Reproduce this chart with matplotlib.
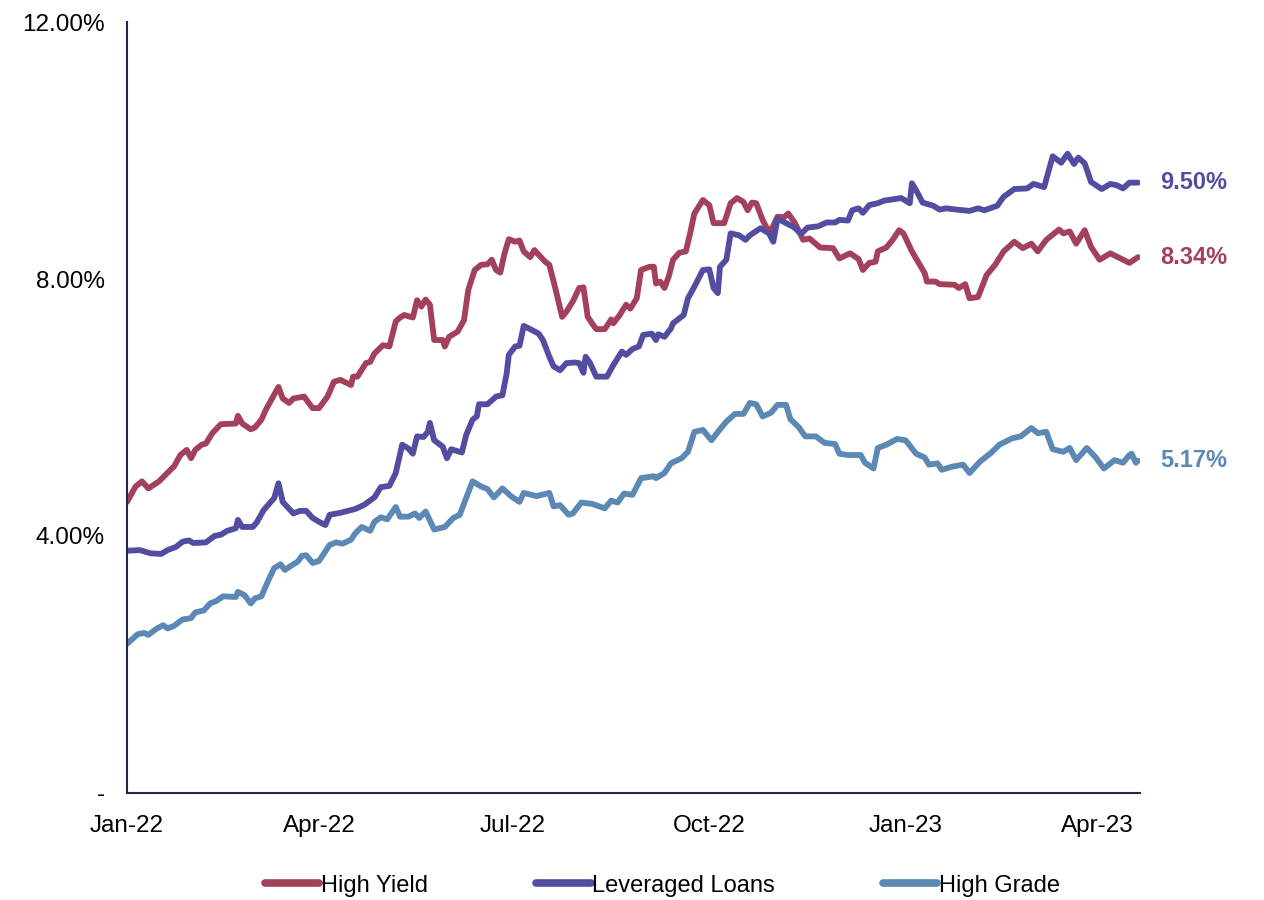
import pandas as pd
import matplotlib
matplotlib.use("Agg")
from matplotlib import pyplot as plt
import matplotlib.dates as mdates
from matplotlib.ticker import FixedLocator, FuncFormatter

plt.rcParams['font.family'] = ['Liberation Sans', 'DejaVu Sans']

# yield to worst, % (daily, thinned)
hy_dates = [
    "2022-01-01", "2022-01-05", "2022-01-08", "2022-01-11", "2022-01-16", "2022-01-22", "2022-01-23",
    "2022-01-26", "2022-01-29", "2022-01-31", "2022-02-02", "2022-02-05", "2022-02-07", "2022-02-10",
    "2022-02-14", "2022-02-21", "2022-02-22", "2022-02-24", "2022-02-28", "2022-03-02", "2022-03-05",
    "2022-03-07", "2022-03-10", "2022-03-13", "2022-03-15", "2022-03-18", "2022-03-20", "2022-03-25",
    "2022-03-29", "2022-04-01", "2022-04-05", "2022-04-08", "2022-04-11", "2022-04-16", "2022-04-17",
    "2022-04-19", "2022-04-23", "2022-04-25", "2022-04-27", "2022-05-01", "2022-05-04", "2022-05-07",
    "2022-05-09", "2022-05-11", "2022-05-15", "2022-05-17", "2022-05-19", "2022-05-21", "2022-05-23",
    "2022-05-25", "2022-05-29", "2022-05-30", "2022-06-01", "2022-06-05", "2022-06-08", "2022-06-10",
    "2022-06-13", "2022-06-16", "2022-06-19", "2022-06-21", "2022-06-23", "2022-06-25", "2022-06-27",
    "2022-06-29", "2022-07-02", "2022-07-04", "2022-07-06", "2022-07-09", "2022-07-11", "2022-07-16",
    "2022-07-18", "2022-07-21", "2022-07-24", "2022-07-26", "2022-07-29", "2022-08-01", "2022-08-03",
    "2022-08-05", "2022-08-07", "2022-08-09", "2022-08-13", "2022-08-16", "2022-08-17", "2022-08-20",
    "2022-08-23", "2022-08-25", "2022-08-28", "2022-08-30", "2022-09-03", "2022-09-05", "2022-09-06",
    "2022-09-08", "2022-09-10", "2022-09-12", "2022-09-14", "2022-09-17", "2022-09-20", "2022-09-22",
    "2022-09-24", "2022-09-28", "2022-10-01", "2022-10-03", "2022-10-08", "2022-10-11", "2022-10-14",
    "2022-10-17", "2022-10-19", "2022-10-21", "2022-10-23", "2022-10-26", "2022-10-28", "2022-10-30",
    "2022-11-02", "2022-11-05", "2022-11-07", "2022-11-10", "2022-11-14", "2022-11-17", "2022-11-22",
    "2022-11-28", "2022-12-01", "2022-12-06", "2022-12-10", "2022-12-12", "2022-12-15", "2022-12-18",
    "2022-12-19", "2022-12-23", "2022-12-26", "2022-12-29", "2022-12-31", "2023-01-04", "2023-01-10",
    "2023-01-11", "2023-01-15", "2023-01-17", "2023-01-24", "2023-01-26", "2023-01-29", "2023-01-31",
    "2023-02-04", "2023-02-08", "2023-02-12", "2023-02-16", "2023-02-21", "2023-02-25", "2023-03-01",
    "2023-03-04", "2023-03-08", "2023-03-14", "2023-03-16", "2023-03-19", "2023-03-22", "2023-03-26",
    "2023-03-29", "2023-04-02", "2023-04-07", "2023-04-13", "2023-04-16", "2023-04-20",
]
hy_values = [
    4.53, 4.77, 4.85, 4.74, 4.85, 5.05, 5.08,
    5.26, 5.34, 5.21, 5.34, 5.42, 5.44, 5.60,
    5.74, 5.75, 5.87, 5.75, 5.66, 5.69, 5.81,
    5.96, 6.14, 6.32, 6.14, 6.07, 6.14, 6.17,
    5.99, 5.99, 6.17, 6.40, 6.43, 6.35, 6.48,
    6.48, 6.69, 6.71, 6.84, 6.97, 6.95, 7.34,
    7.40, 7.44, 7.40, 7.67, 7.57, 7.68, 7.60,
    7.05, 7.05, 6.95, 7.10, 7.18, 7.36, 7.83,
    8.14, 8.22, 8.23, 8.30, 8.14, 8.10, 8.40,
    8.62, 8.58, 8.60, 8.43, 8.34, 8.45, 8.27,
    8.22, 7.83, 7.41, 7.49, 7.65, 7.86, 7.87,
    7.41, 7.31, 7.22, 7.22, 7.37, 7.31, 7.44,
    7.60, 7.54, 7.70, 8.14, 8.19, 8.19, 7.93,
    7.96, 7.86, 8.04, 8.30, 8.41, 8.43, 8.71,
    9.02, 9.23, 9.15, 8.87, 8.87, 9.18, 9.26,
    9.20, 9.07, 9.19, 9.18, 8.92, 8.79, 8.76,
    8.97, 8.96, 9.02, 8.88, 8.61, 8.63, 8.49,
    8.48, 8.32, 8.40, 8.31, 8.14, 8.25, 8.27,
    8.43, 8.49, 8.61, 8.76, 8.71, 8.43, 8.09,
    7.96, 7.96, 7.92, 7.91, 7.86, 7.92, 7.70,
    7.72, 8.06, 8.22, 8.43, 8.58, 8.48, 8.55,
    8.43, 8.61, 8.77, 8.71, 8.74, 8.55, 8.76,
    8.50, 8.30, 8.40, 8.30, 8.25, 8.34,
]

ll_dates = [
    "2022-01-01", "2022-01-07", "2022-01-12", "2022-01-17", "2022-01-20", "2022-01-24", "2022-01-27",
    "2022-01-30", "2022-02-01", "2022-02-07", "2022-02-11", "2022-02-14", "2022-02-17", "2022-02-21",
    "2022-02-22", "2022-02-24", "2022-03-01", "2022-03-03", "2022-03-06", "2022-03-11", "2022-03-13",
    "2022-03-15", "2022-03-20", "2022-03-23", "2022-03-26", "2022-03-29", "2022-04-01", "2022-04-04",
    "2022-04-06", "2022-04-11", "2022-04-18", "2022-04-22", "2022-04-27", "2022-04-30", "2022-05-04",
    "2022-05-07", "2022-05-10", "2022-05-13", "2022-05-15", "2022-05-17", "2022-05-20", "2022-05-22",
    "2022-05-23", "2022-05-25", "2022-05-29", "2022-05-31", "2022-06-02", "2022-06-07", "2022-06-09",
    "2022-06-12", "2022-06-14", "2022-06-15", "2022-06-19", "2022-06-23", "2022-06-26", "2022-06-28",
    "2022-06-29", "2022-07-02", "2022-07-04", "2022-07-06", "2022-07-09", "2022-07-13", "2022-07-15",
    "2022-07-18", "2022-07-20", "2022-07-23", "2022-07-26", "2022-07-30", "2022-08-01", "2022-08-03",
    "2022-08-04", "2022-08-06", "2022-08-09", "2022-08-14", "2022-08-17", "2022-08-21", "2022-08-23",
    "2022-08-26", "2022-08-29", "2022-08-31", "2022-09-04", "2022-09-06", "2022-09-07", "2022-09-10",
    "2022-09-13", "2022-09-14", "2022-09-19", "2022-09-21", "2022-09-24", "2022-09-28", "2022-10-01",
    "2022-10-03", "2022-10-05", "2022-10-06", "2022-10-09", "2022-10-11", "2022-10-15", "2022-10-18",
    "2022-10-20", "2022-10-25", "2022-10-29", "2022-10-31", "2022-11-02", "2022-11-06", "2022-11-10",
    "2022-11-13", "2022-11-16", "2022-11-21", "2022-11-25", "2022-11-29", "2022-12-01", "2022-12-05",
    "2022-12-07", "2022-12-10", "2022-12-12", "2022-12-15", "2022-12-19", "2022-12-22", "2022-12-26",
    "2022-12-30", "2023-01-03", "2023-01-04", "2023-01-06", "2023-01-09", "2023-01-14", "2023-01-17",
    "2023-01-20", "2023-01-25", "2023-01-31", "2023-02-04", "2023-02-07", "2023-02-13", "2023-02-16",
    "2023-02-21", "2023-02-27", "2023-03-02", "2023-03-07", "2023-03-11", "2023-03-15", "2023-03-18",
    "2023-03-21", "2023-03-23", "2023-03-26", "2023-03-29", "2023-04-03", "2023-04-07", "2023-04-10",
    "2023-04-13", "2023-04-16", "2023-04-20",
]
ll_values = [
    3.77, 3.78, 3.73, 3.72, 3.78, 3.83, 3.91,
    3.93, 3.89, 3.90, 4.00, 4.02, 4.08, 4.12,
    4.25, 4.14, 4.14, 4.22, 4.40, 4.59, 4.82,
    4.53, 4.35, 4.39, 4.39, 4.28, 4.22, 4.17,
    4.33, 4.36, 4.42, 4.48, 4.60, 4.76, 4.78,
    4.98, 5.42, 5.36, 5.28, 5.55, 5.54, 5.62,
    5.76, 5.49, 5.39, 5.21, 5.35, 5.30, 5.57,
    5.81, 5.86, 6.05, 6.05, 6.17, 6.19, 6.53,
    6.82, 6.95, 6.96, 7.27, 7.22, 7.15, 7.05,
    6.79, 6.64, 6.58, 6.69, 6.70, 6.69, 6.54,
    6.79, 6.70, 6.48, 6.48, 6.66, 6.87, 6.82,
    6.91, 6.95, 7.13, 7.15, 7.05, 7.14, 7.10,
    7.23, 7.31, 7.44, 7.70, 7.88, 8.14, 8.15,
    7.86, 7.78, 8.19, 8.30, 8.71, 8.68, 8.61,
    8.68, 8.79, 8.71, 8.58, 8.94, 8.87, 8.80,
    8.70, 8.80, 8.82, 8.88, 8.88, 8.92, 8.91,
    9.07, 9.10, 9.03, 9.15, 9.18, 9.22, 9.24,
    9.26, 9.18, 9.49, 9.38, 9.19, 9.14, 9.08,
    9.10, 9.08, 9.06, 9.10, 9.07, 9.14, 9.28,
    9.40, 9.41, 9.48, 9.43, 9.91, 9.81, 9.95,
    9.79, 9.89, 9.80, 9.51, 9.40, 9.48, 9.46,
    9.41, 9.50, 9.50,
]

hg_dates = [
    "2022-01-01", "2022-01-06", "2022-01-09", "2022-01-11", "2022-01-15", "2022-01-18", "2022-01-20",
    "2022-01-23", "2022-01-27", "2022-01-31", "2022-02-02", "2022-02-06", "2022-02-09", "2022-02-12",
    "2022-02-15", "2022-02-21", "2022-02-22", "2022-02-25", "2022-02-28", "2022-03-02", "2022-03-05",
    "2022-03-08", "2022-03-11", "2022-03-14", "2022-03-16", "2022-03-20", "2022-03-22", "2022-03-24",
    "2022-03-26", "2022-03-29", "2022-04-01", "2022-04-06", "2022-04-09", "2022-04-12", "2022-04-16",
    "2022-04-18", "2022-04-21", "2022-04-25", "2022-04-27", "2022-04-30", "2022-05-03", "2022-05-07",
    "2022-05-09", "2022-05-13", "2022-05-16", "2022-05-18", "2022-05-21", "2022-05-25", "2022-05-30",
    "2022-06-03", "2022-06-06", "2022-06-09", "2022-06-12", "2022-06-16", "2022-06-19", "2022-06-22",
    "2022-06-26", "2022-06-30", "2022-07-04", "2022-07-06", "2022-07-12", "2022-07-18", "2022-07-20",
    "2022-07-23", "2022-07-27", "2022-07-29", "2022-08-02", "2022-08-07", "2022-08-13", "2022-08-16",
    "2022-08-19", "2022-08-22", "2022-08-26", "2022-08-30", "2022-09-05", "2022-09-06", "2022-09-10",
    "2022-09-13", "2022-09-18", "2022-09-21", "2022-09-24", "2022-09-28", "2022-10-02", "2022-10-06",
    "2022-10-09", "2022-10-13", "2022-10-17", "2022-10-20", "2022-10-23", "2022-10-26", "2022-10-30",
    "2022-11-02", "2022-11-06", "2022-11-08", "2022-11-12", "2022-11-15", "2022-11-20", "2022-11-24",
    "2022-11-29", "2022-12-01", "2022-12-05", "2022-12-11", "2022-12-13", "2022-12-17", "2022-12-19",
    "2022-12-23", "2022-12-28", "2023-01-01", "2023-01-06", "2023-01-10", "2023-01-12", "2023-01-16",
    "2023-01-18", "2023-01-23", "2023-01-28", "2023-01-31", "2023-02-05", "2023-02-10", "2023-02-14",
    "2023-02-20", "2023-02-24", "2023-03-01", "2023-03-04", "2023-03-08", "2023-03-11", "2023-03-16",
    "2023-03-19", "2023-03-22", "2023-03-27", "2023-03-31", "2023-04-04", "2023-04-09", "2023-04-13",
    "2023-04-16", "2023-04-17", "2023-04-19", "2023-04-20",
]
hg_values = [
    2.32, 2.47, 2.49, 2.46, 2.56, 2.61, 2.56,
    2.60, 2.70, 2.72, 2.81, 2.84, 2.95, 2.99,
    3.06, 3.05, 3.13, 3.08, 2.95, 3.03, 3.06,
    3.29, 3.50, 3.56, 3.47, 3.56, 3.60, 3.69,
    3.70, 3.58, 3.61, 3.86, 3.90, 3.88, 3.94,
    4.04, 4.14, 4.08, 4.22, 4.29, 4.26, 4.45,
    4.30, 4.30, 4.35, 4.28, 4.38, 4.10, 4.14,
    4.28, 4.33, 4.59, 4.85, 4.77, 4.73, 4.60,
    4.74, 4.62, 4.53, 4.67, 4.62, 4.67, 4.46,
    4.48, 4.33, 4.35, 4.52, 4.50, 4.43, 4.55,
    4.52, 4.66, 4.64, 4.90, 4.93, 4.90, 4.98,
    5.13, 5.21, 5.31, 5.62, 5.65, 5.49, 5.66,
    5.78, 5.90, 5.90, 6.07, 6.05, 5.86, 5.92,
    6.04, 6.04, 5.82, 5.69, 5.55, 5.55, 5.45,
    5.43, 5.28, 5.26, 5.26, 5.14, 5.05, 5.37,
    5.42, 5.51, 5.49, 5.28, 5.22, 5.11, 5.13,
    5.03, 5.08, 5.11, 4.98, 5.16, 5.29, 5.42,
    5.52, 5.55, 5.68, 5.60, 5.62, 5.35, 5.31,
    5.37, 5.18, 5.37, 5.23, 5.05, 5.18, 5.14,
    5.26, 5.28, 5.14, 5.17,
]

series_names = ["High Yield", "Leveraged Loans", "High Grade"]
series_colors = ["#A3405C", "#524DA0", "#5B88B5"]
y_ticks = [0, 4, 8, 12]
y_tick_labels = ["-", "4.00%", "8.00%", "12.00%"]
x_tick_dates = ["2022-01-01", "2022-04-01", "2022-07-01", "2022-10-01", "2023-01-01", "2023-04-01"]

axis_color = "#1F2A4A"

fig = plt.figure(figsize=(12.64, 9.0), dpi=100)
ax = fig.add_axes([0.1005, 0.119, 0.8015, 0.8565])

all_series = [(hy_dates, hy_values), (ll_dates, ll_values), (hg_dates, hg_values)]
for (d, v), name, col in zip(all_series, series_names, series_colors):
    dates = pd.to_datetime(d)
    ax.plot(dates, v, color=col, linewidth=4.2, solid_joinstyle='round',
            solid_capstyle='round', label=name)
    # closing value printed to the right of the line
    ax.annotate("%.2f%%" % v[-1], xy=(dates[-1], v[-1]), xytext=(16, 0),
                textcoords='offset points', ha='left', va='center',
                fontsize=17, fontweight='bold', color=col, annotation_clip=False)

ax.set_ylim(0, 12)
ax.set_xlim(pd.Timestamp("2022-01-01"), pd.Timestamp("2023-04-21"))
ax.yaxis.set_major_locator(FixedLocator(y_ticks))
ax.yaxis.set_major_formatter(FuncFormatter(lambda val, pos: y_tick_labels[y_ticks.index(int(round(val)))]))
ax.set_xticks(pd.to_datetime(x_tick_dates))
ax.xaxis.set_major_formatter(mdates.DateFormatter("%b-%y"))

ax.tick_params(axis='both', length=0, labelsize=17.5, colors='black')
ax.tick_params(axis='y', pad=16)
ax.tick_params(axis='x', pad=16)

for side in ['top', 'right']:
    ax.spines[side].set_visible(False)
for side in ['left', 'bottom']:
    ax.spines[side].set_color(axis_color)
    ax.spines[side].set_linewidth(1.5)

handles, labels = ax.get_legend_handles_labels()
leg = fig.legend(handles, labels, loc='center', bbox_to_anchor=(0.524, 0.016),
                 ncol=3, frameon=False, fontsize=17, handlelength=2.3,
                 handletextpad=0.05, columnspacing=4.6)
for line in leg.get_lines():
    line.set_linewidth(5.5)

fig.savefig("out.png", dpi=100)
